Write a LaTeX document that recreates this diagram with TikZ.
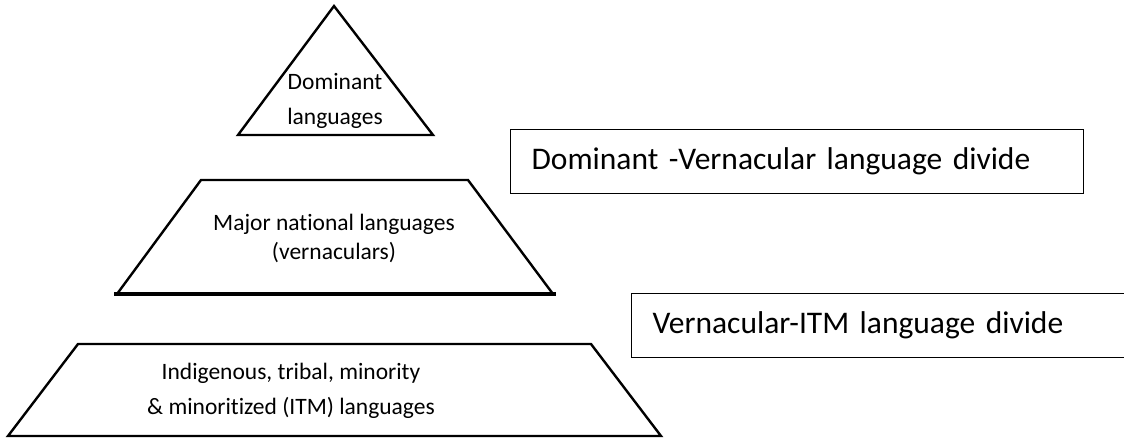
\documentclass[tikz,border=0pt]{standalone}
\usepackage{fontspec}
\setmainfont{Carlito}[Ligatures=NoCommon]
\usepackage{tikz}
\usetikzlibrary{positioning,calc}

\begin{document}
\begin{tikzpicture}[x=1pt, y=-1pt, line join=miter,
    tier/.style={draw=black, line width=2.4pt},
    base/.style={draw=black, line width=3.6pt},
    tierlabel/.style={font=\fontsize{23.5}{29}\selectfont, align=center, inner sep=0pt},
    widelabel/.style={tierlabel, font=\fontsize{23.5}{35}\selectfont},
    dividebox/.style={draw=black, line width=1.1pt, anchor=north west, minimum height=64pt,
        align=left, inner xsep=21pt, font=\fontsize{31.5}{36}\selectfont}]
    \clip (0,0) rectangle (1124,437);

    % Pyramid tiers
    \draw[tier] (238,135) -- (334,6) -- (433,135) -- cycle;
    \draw[tier] (117,294) -- (201,180) -- (468,180) -- (553,294);
    \draw[base] (114,294) -- (556,294);
    \draw[tier] (8,436) -- (78,344) -- (591,344) -- (661,436) -- cycle;

    % Labels of the tiers
    \node[widelabel] (dom) at (335,101) {Dominant\\languages};
    \node[tierlabel] (maj) at (334,238) {Major national languages\\(vernaculars)};
    \node[widelabel] (itm) at (291,391) {Indigenous, tribal, minority\\\& minoritized (ITM) languages};

    % Divides
    \node[dividebox, minimum width=573pt, text width=531pt] (divA) at (510,129) {Dominant -Vernacular language divide};
    \node[dividebox, minimum width=520pt, text width=478pt] (divB) at (631,293) {Vernacular-ITM language divide};
\end{tikzpicture}
\end{document}
